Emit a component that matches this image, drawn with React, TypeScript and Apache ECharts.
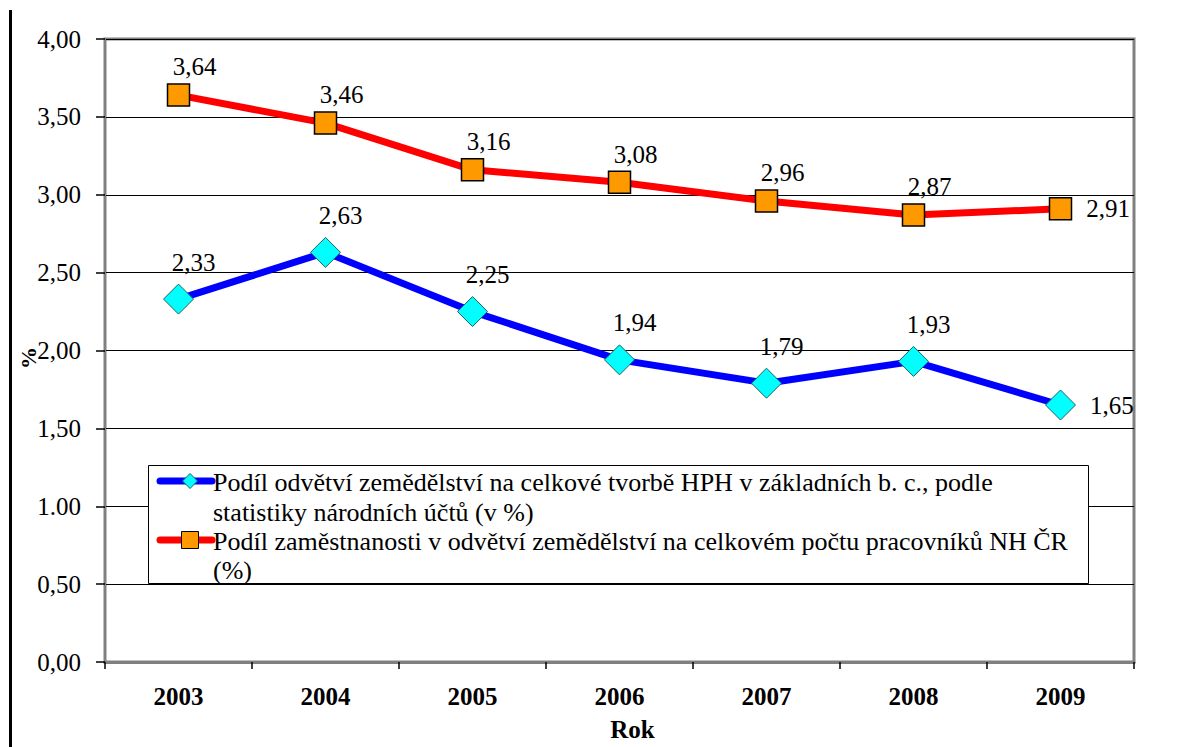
import React, { useEffect, useRef } from "react";
import * as echarts from "echarts";

const years = ["2003", "2004", "2005", "2006", "2007", "2008", "2009"];
const hphShare = [2.33, 2.63, 2.25, 1.94, 1.79, 1.93, 1.65];
const employmentShare = [3.64, 3.46, 3.16, 3.08, 2.96, 2.87, 2.91];
const yTickLabels = ["0,00", "0,50", "1.00", "1,50", "2,00", "2,50", "3,00", "3,50", "4,00"];
const legendHph = [
  "Podíl odvětví zemědělství na celkové tvorbě HPH v základních b. c., podle",
  "statistiky národních účtů (v %)",
];
const legendEmp = [
  "Podíl zaměstnanosti v odvětví zemědělství na celkovém počtu pracovníků NH ČR",
  "(%)",
];
const seriesNames = [legendHph.join(" "), legendEmp.join(" ")];

const FONT = "Liberation Serif";

const fmt = (v: number) => v.toFixed(2).replace(".", ",");

export default function App() {
  const ref = useRef<HTMLDivElement>(null);
  useEffect(() => {
    if (!ref.current) return;
    const chart = echarts.init(ref.current, null, { renderer: "svg" });
    const last = years.length - 1;
    const mkData = (vals: number[]) =>
      vals.map((v, i) =>
        i === last
          ? { value: v, label: { position: "right", offset: [0, 0], distance: 14 } }
          : v
      );
    const labelBase = {
      show: true,
      fontFamily: FONT,
      fontSize: 25,
      color: "#000",
      formatter: (p: any) => fmt(p.value),
    };
    chart.setOption({
      animation: false,
      backgroundColor: "#fff",
      textStyle: { fontFamily: FONT },
      grid: {
        left: 105,
        right: 66,
        top: 39,
        bottom: 85,
        show: true,
        borderColor: "#808080",
        borderWidth: 3,
        backgroundColor: "transparent",
      },
      xAxis: {
        type: "category",
        data: years,
        boundaryGap: true,
        axisLine: { show: true, lineStyle: { color: "#808080", width: 3 } },
        axisTick: { show: true, length: 7, lineStyle: { color: "#000", width: 1.5 } },
        axisLabel: { fontFamily: FONT, fontSize: 25, fontWeight: "bold", color: "#000", margin: 22 },
        name: "Rok",
        nameLocation: "middle",
        nameGap: 55,
        nameTextStyle: { fontFamily: FONT, fontSize: 25, fontWeight: "bold", color: "#000", padding: [0, 0, 0, 26] },
        splitLine: { show: false },
      },
      yAxis: {
        type: "value",
        min: 0,
        max: 4,
        interval: 0.5,
        axisLine: { show: true, lineStyle: { color: "#808080", width: 2 } },
        axisTick: { show: true, length: 9, lineStyle: { color: "#000", width: 1.5 } },
        axisLabel: {
          fontFamily: FONT,
          fontSize: 25,
          color: "#000",
          margin: 24,
          formatter: (v: number) => yTickLabels[Math.round(v / 0.5)],
        },
        splitLine: { show: true, lineStyle: { color: "#000", width: 1 } },
      },
      series: [
        {
          name: seriesNames[0],
          type: "line",
          data: mkData(hphShare),
          symbol: "diamond",
          symbolSize: 30,
          lineStyle: { color: "#0000ff", width: 7 },
          itemStyle: { color: "#00ffff", borderColor: "#206060", borderWidth: 1 },
          label: { ...labelBase, position: "top", distance: 9, offset: [15, 0] },
          z: 3,
        },
        {
          name: seriesNames[1],
          type: "line",
          data: mkData(employmentShare),
          symbol: "rect",
          symbolSize: 22,
          lineStyle: { color: "#ff0000", width: 7 },
          itemStyle: { color: "#ff9900", borderColor: "#000", borderWidth: 1.5 },
          label: { ...labelBase, position: "top", distance: 4, offset: [16, 0] },
          z: 3,
        },
      ],
      graphic: [
        {
          type: "rect",
          z: 100,
          shape: { x: 9, y: 10, width: 3, height: 737 },
          style: { fill: "#000" },
        },
        {
          type: "text",
          z: 100,
          x: 28,
          y: 358,
          rotation: Math.PI / 2,
          style: {
            text: "%",
            fontFamily: FONT,
            fontSize: 22,
            fontWeight: "bold",
            fill: "#000",
            align: "center",
            verticalAlign: "middle",
          },
        },
        {
          type: "rect",
          z: 100,
          shape: { x: 148.5, y: 465.5, width: 940, height: 118 },
          style: { fill: "#fff", stroke: "#000", lineWidth: 1 },
        },
        {
          type: "line",
          z: 101,
          shape: { x1: 160, y1: 481, x2: 212, y2: 481 },
          style: { stroke: "#0000ff", lineWidth: 7, lineCap: "round" },
        },
        {
          type: "polygon",
          z: 102,
          shape: { points: [[190, 473.5], [197.5, 481], [190, 488.5], [182.5, 481]] },
          style: { fill: "#00ffff", stroke: "#206060", lineWidth: 1 },
        },
        {
          type: "line",
          z: 101,
          shape: { x1: 160, y1: 540, x2: 212, y2: 540 },
          style: { stroke: "#ff0000", lineWidth: 7, lineCap: "round" },
        },
        {
          type: "rect",
          z: 102,
          shape: { x: 181.5, y: 531.5, width: 17, height: 17 },
          style: { fill: "#ff9900", stroke: "#000", lineWidth: 1 },
        },
        ...[legendHph[0], legendHph[1], legendEmp[0], legendEmp[1]].map((t, i) => ({
          type: "text",
          z: 102,
          x: 213,
          y: [482, 512, 541, 570][i],
          style: {
            text: t,
            fontFamily: FONT,
            fontSize: 26,
            fill: "#000",
            align: "left",
            verticalAlign: "middle",
          },
        })),
      ],
    });
    return () => chart.dispose();
  }, []);
  return (
    <div
      ref={ref}
      style={{ position: "absolute", left: 0, top: 0, width: 1200, height: 747 }}
    />
  );
}
